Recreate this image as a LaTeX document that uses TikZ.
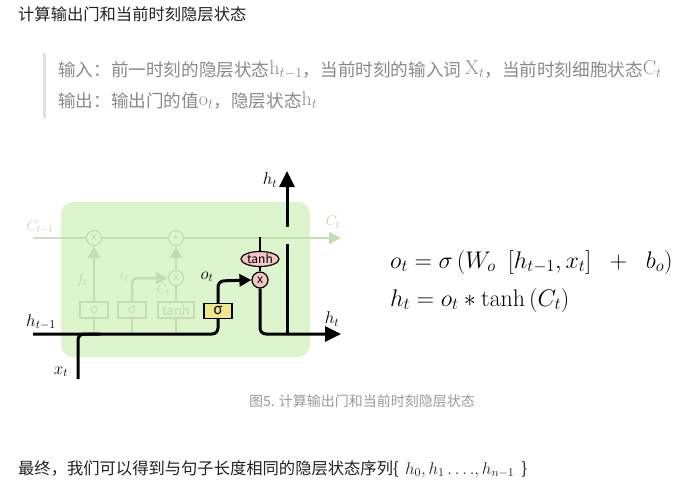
\RequirePackage{fix-cm}
\documentclass[tikz,border=0pt]{standalone}
\usepackage[no-math]{fontspec}
\newfontfamily\cjk{Noto Sans CJK SC}
\usetikzlibrary{arrows.meta,shapes.geometric}
\definecolor{cellbg}{HTML}{DCF5CD}
\definecolor{faint}{HTML}{C4DEB0}
\definecolor{faintout}{HTML}{D2DEC8}
\definecolor{faintlbl}{HTML}{BFD6AE}
\definecolor{gatey}{HTML}{F0E68C}
\definecolor{pinkc}{HTML}{F4C4C6}
\definecolor{quotegray}{HTML}{8A8A8A}
\definecolor{capgray}{HTML}{9A9A9A}
\definecolor{bargray}{HTML}{E0E0E0}
\definecolor{txt}{HTML}{222222}
\newcommand{\qm}[1]{{\fontsize{20}{20}\selectfont\raisebox{1.5pt}{$#1$}}}
\tikzset{
  blk/.style={line width=3pt, black, rounded corners=6pt},
  fnt/.style={line width=2.5pt, faint, rounded corners=5pt},
  tipbig/.style={-{Triangle[length=16pt,width=15pt]}},
  tipmid/.style={-{Triangle[length=12pt,width=12pt]}},
  tipfaint/.style={-{Triangle[length=12pt,width=12pt]}},
  gatebox/.style={draw=black, line width=1.2pt, fill=gatey, minimum width=28pt, minimum height=15pt, inner sep=0pt, font=\cjk\fontsize{15}{15}\selectfont},
  fbox/.style={draw=faint, line width=1.2pt, fill=cellbg, minimum width=28pt, minimum height=16pt, inner sep=0pt, text=faint, font=\cjk\fontsize{13}{13}\selectfont},
  fcirc/.style={circle, draw=faint, line width=1.2pt, fill=cellbg, minimum size=15pt, inner sep=0pt, text=faint, font=\cjk\fontsize{11}{11}\selectfont},
  pcirc/.style={circle, draw=black, line width=1.2pt, fill=pinkc, minimum size=16pt, inner sep=0pt, font=\cjk\fontsize{12}{12}\selectfont},
  pell/.style={ellipse, draw=black, line width=1.2pt, fill=pinkc, minimum width=38pt, minimum height=15pt, inner sep=0pt, font=\cjk\fontsize{12}{12}\selectfont},
  dlbl/.style={font=\fontsize{17}{17}\selectfont, inner sep=0pt},
  flbl/.style={font=\fontsize{14.4}{14.4}\selectfont, text=faintlbl, inner sep=0pt},
  cn/.style={font=\cjk\fontsize{16.3}{19}\selectfont, text=txt, inner sep=0pt},
  qt/.style={font=\cjk\fontsize{17.6}{19}\selectfont, text=quotegray, inner sep=0pt},
  eq/.style={font=\fontsize{24}{28}\selectfont, inner sep=0pt},
}
\begin{document}
\begin{tikzpicture}[x=1pt,y=-1pt]
\useasboundingbox[fill=white] (0,0) rectangle (694,493);

% title
\node[cn, anchor=west] (title) at (18,14) {计算输出门和当前时刻隐层状态};

% quote block
\fill[bargray] (43,53) rectangle (46,118);
\node[qt, anchor=base west] (q1) at (58,76) {输入：前一时刻的隐层状态\qm{\mathrm{h}_{t-1}}，当前时刻的输入词 \qm{\mathrm{X}_t}，当前时刻细胞状态\qm{\mathrm{C}_t}};
\node[qt, anchor=base west] (q2) at (58,107) {输出：输出门的值\qm{\mathrm{o}_t}，隐层状态\qm{\mathrm{h}_t}};

% LSTM cell
\fill[cellbg, rounded corners=12pt] (61,202) rectangle (310,357);

% faint cell-state line
\coordinate (cin) at (33,238);
\coordinate (cout) at (341,238);
\node[fcirc] (f1) at (94,238) {x};
\node[fcirc] (pl) at (176,238) {+};
\draw[line width=2.5pt, faintout] (cin) -- (61,238);
\draw[line width=2.5pt, faint] (61,238) -- (f1);
\draw[line width=2.5pt, faint] (f1) -- (pl);
\draw[line width=2.5pt, faint, tipfaint] (pl) -- (cout);
\node[flbl, anchor=center] (cl1) at (40,227) {$C_{t-1}$};
\node[flbl, anchor=center] (cl2) at (333,222) {$C_t$};

% faint gates
\node[fbox] (g1) at (94,310) {σ};
\node[fbox] (g2) at (132,310) {σ};
\node[fbox, minimum width=36pt] (g3) at (176,310) {tanh};
\node[fcirc] (f2) at (176,278) {x};
\draw[line width=2pt, faint] (g1.south) -- (94,334);
\draw[line width=2pt, faint] (g2.south) -- (132,334);
\draw[line width=2pt, faint] (g3.south) -- (176,334);
\draw[fnt, tipfaint] (g1.north) -- (f1.south);
\draw[fnt, tipfaint] (g2.north) -- (132,278) -- (f2.west);
\draw[fnt] (g3.north) -- (f2.south);
\draw[fnt, tipfaint] (f2.north) -- (pl.south);
\node[flbl] (lf) at (82,280) {$f_t$};
\node[flbl] (li) at (124,276) {$i_t$};
\node[flbl, font=\fontsize{13}{13}\selectfont] (lc) at (163,289) {$\tilde{C}_t$};

% output gate (black)
\coordinate (hin) at (33,334);
\coordinate (xin) at (78,379);
\coordinate (hout) at (341,334);
\coordinate (hup) at (287,171);
\node[gatebox] (sig) at (218,311) {σ};
\node[pcirc] (mul) at (260,280) {x};
\node[pell] (th) at (260,259) {tanh};
\coordinate (ctap) at (260,237);

\draw[blk] (hin) -- (218,334) -- (sig.south);
\draw[blk] (xin) -- (78,334) -- (100,334);
\draw[blk, tipmid] (sig.north) -- (218,281) -- (mul.west);
\draw[line width=2.5pt] (ctap) -- (th.north);
\draw[line width=2.5pt] (th.south) -- (mul.north);
\draw[blk, tipbig] (mul.south) -- (260,334) -- (hout);
\draw[line width=3pt] (287,335) -- (287,244);
\draw[line width=3pt, tipbig] (287,227) -- (hup);

\node[dlbl] (lh1) at (41,322) {$h_{t-1}$};
\node[dlbl] (lx) at (61,372) {$x_t$};
\node[dlbl] (lo) at (207,277) {$o_t$};
\node[dlbl] (lht1) at (270,180) {$h_t$};
\node[dlbl] (lht2) at (332,319) {$h_t$};

% equations
\node[eq, anchor=base west] (eq1) at (390,268) {$o_t=\sigma\,(W_o\hspace{0.5em}[h_{t-1},x_t]\hspace{0.55em}+\hspace{0.55em}b_o)$};
\node[eq, anchor=base west] (eq2) at (390,306) {$h_t=o_t*\tanh\,(C_t)$};

% caption
\node[font=\cjk\fontsize{14}{16}\selectfont, text=capgray, inner sep=0pt] (cap) at (362,401) {图5. 计算输出门和当前时刻隐层状态};

% closing sentence
\node[cn, anchor=base west] (last) at (18,474) {最终，我们可以得到与句子长度相同的隐层状态序列\{\hspace{0.4em}{\fontsize{17}{17}\selectfont$h_0,h_1\ldots.,h_{n-1}$}\hspace{0.45em}\}};
\end{tikzpicture}
\end{document}
